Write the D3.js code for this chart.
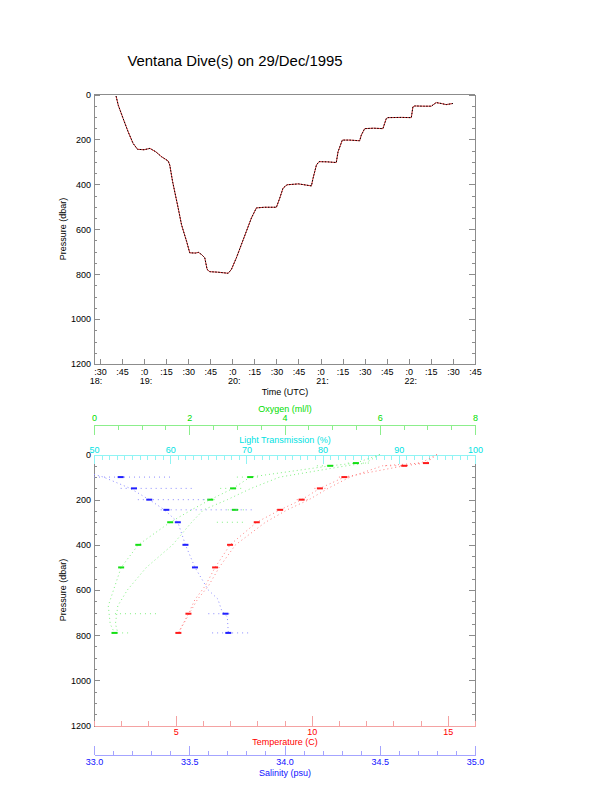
<!DOCTYPE html>
<html>
<head>
<meta charset="utf-8">
<script src="https://cdn.jsdelivr.net/npm/d3@7"></script>
<style>
    body { margin: 0; background: #fff; }
    text { font-family: "Liberation Sans", Arial, Helvetica, sans-serif; }
</style>
</head>
<body>
<div id="chart" style="width:612px;height:785px"></div>
<script>
// dive track: minutes after 18:00 UTC, pressure in dbar
const diveMinutes = [41, 42.5, 45.8, 49.2, 52.6, 55.6, 60, 64, 68, 71.9, 76.4, 77.5, 79.4, 83.2, 85.5, 88.9, 91.1, 95, 97, 99,
    101.3, 102.9, 104.7, 110, 117.2, 119.4, 122.8, 126.2, 129.6, 133, 136.4, 142, 150, 152.3, 154.5, 157.2, 165, 173.8, 174.9, 177.2,
    179, 185, 190.7, 191.9, 194.8, 200, 206.6, 207.7, 210, 216, 222.4, 224.7, 225.8, 235, 241.7, 242.8, 244, 250, 255.3, 258.6,
    262, 265.4, 270];
const divePressure = [7, 48, 107, 166, 218, 244, 246, 240, 255, 277, 296, 314, 387, 505, 580, 653, 705, 706, 703, 712,
    727, 779, 789, 791, 796, 779, 727, 668, 609, 550, 505, 502, 502, 461, 417, 402, 398, 407, 373, 314,
    299, 300, 303, 255, 203, 203, 206, 181, 152, 150, 152, 107, 103, 102, 103, 55, 51, 52, 52, 36,
    40, 45, 40];
const hourLabels = ["18:", "19:", "20:", "21:", "22:"];
const pressureTicks = [0, 200, 400, 600, 800, 1000, 1200];

// profile trails (pressure, value)
const tempTrailP = [0, 38, 50, 100, 150, 200, 245, 300, 400, 500, 583, 642, 705, 790];
const tempDown = [14.6, 14.2, 13.4, 11.2, 10.3, 9.63, 8.84, 7.98, 7.0, 6.45, 6.08, 5.71, 5.47, 5.1];
const tempUp = [14.6, 14.0, 12.6, 11.4, 10.6, 9.9, 9.1, 8.3, 7.2, 6.6, 6.2, 5.8, 5.5, 5.1];
const salTrailP = [88, 100, 150, 200, 245, 300, 400, 500, 550, 600, 640, 690, 720, 790];
const salTrail = [33.0, 33.05, 33.19, 33.29, 33.37, 33.44, 33.48, 33.53, 33.565, 33.6, 33.65, 33.67, 33.70, 33.705];
const oxyTrailP = [0, 38, 50, 100, 150, 200, 245, 300, 400, 500, 600, 670, 750, 790];
const oxyDown = [6.0, 5.5, 4.96, 3.28, 2.92, 2.44, 2.05, 1.6, 0.93, 0.57, 0.41, 0.30, 0.34, 0.43];
const oxyUp = [6.0, 5.7, 5.3, 3.9, 3.3, 2.8, 2.3, 2.05, 1.65, 1.1, 0.7, 0.5, 0.45, 0.5];

// stops: mean value and scatter range
const stopPressure = [38, 50, 100, 150, 200, 245, 300, 400, 500, 705, 790];
const stopTemp = [14.2, 13.4, 11.2, 10.3, 9.63, 8.84, 7.98, 7.0, 6.45, 5.47, 5.1];
const stopTempLo = [13.9, 12.7, 11.0, 10.1, 9.45, 8.7, 7.9, null, null, null, null];
const stopTempHi = [14.35, 13.55, 11.4, 10.6, 9.85, 9.0, 8.1, null, null, null, null];
const stopSal = [null, null, 33.14, 33.21, 33.29, 33.38, 33.44, 33.48, 33.53, 33.69, 33.705];
const stopSalLo = [null, null, 33.0, 33.14, 33.23, 33.35, null, null, null, 33.6, 33.62];
const stopSalHi = [null, null, 33.41, 33.53, 33.6, 33.83, null, null, null, 33.72, 33.83];
const stopOxy = [5.5, 4.96, 3.28, 2.92, 2.44, 2.96, 1.6, 0.93, 0.57, null, 0.43];
const stopOxyLo = [5.33, 4.68, 3.0, 2.65, 2.3, 2.81, 2.58, null, null, 0.44, 0.38];
const stopOxyHi = [5.8, 5.1, 3.49, 3.13, 2.6, 3.17, 3.2, null, null, 1.35, 0.75];

class DiveCharts {
    constructor(parentElement) {
        this.parentElement = parentElement;
        this.initVis();
    }

    initVis() {
        let vis = this;
        vis.width = 612;
        vis.height = 785;
        vis.left = 94;
        vis.right = 475;

        vis.svg = d3.select("#" + vis.parentElement).append("svg")
            .attr("width", vis.width)
            .attr("height", vis.height);

        vis.svg.append("text")
            .attr("x", 235).attr("y", 66)
            .attr("text-anchor", "middle")
            .style("font-size", "14.9px")
            .text("Ventana Dive(s) on 29/Dec/1995");

        vis.drawTrack();
        vis.drawProfile();
    }

    styleAxis(g, lineColor, textColor) {
        g.attr("font-family", null).attr("font-size", null);
        g.select(".domain").attr("stroke", lineColor);
        g.selectAll(".tick line").attr("stroke", lineColor);
        g.selectAll(".tick text").attr("fill", textColor).style("font-size", "9px");
        g.attr("shape-rendering", "crispEdges");
        return g;
    }

    minorTicks(axis, values, size) {
        return axis.tickValues(values).tickSize(size).tickSizeOuter(0).tickFormat("");
    }

    yLabel(y) {
        this.svg.append("text")
            .attr("transform", `translate(66,${y}) rotate(-90)`)
            .attr("text-anchor", "middle")
            .style("font-size", "9px")
            .text("Pressure (dbar)");
    }

    pressureAxes(g, scale, grey) {
        let vis = this;
        vis.styleAxis(g.append("g").attr("transform", `translate(${vis.left},0)`)
            .call(d3.axisLeft(scale).tickValues(pressureTicks).tickSize(-6).tickSizeOuter(0).tickPadding(3)
                .tickFormat(d3.format("d"))), grey, "#000");
        vis.styleAxis(g.append("g").attr("transform", `translate(${vis.left},0)`)
            .call(vis.minorTicks(d3.axisLeft(scale), d3.range(0, 1201, 50), -3)), grey, "#000");
        vis.styleAxis(g.append("g").attr("transform", `translate(${vis.right},0)`)
            .call(d3.axisRight(scale).tickValues(pressureTicks).tickSize(-6).tickSizeOuter(0).tickFormat("")), grey, "#000");
        vis.styleAxis(g.append("g").attr("transform", `translate(${vis.right},0)`)
            .call(vis.minorTicks(d3.axisRight(scale), d3.range(0, 1201, 50), -3)), grey, "#000");
    }

    drawTrack() {
        let vis = this;
        let grey = "#8c8c8c";
        let top = 94.5, bottom = 364;

        vis.xTime = d3.scaleLinear().domain([26, 285]).range([vis.left, vis.right]);
        vis.yTrack = d3.scaleLinear().domain([0, 1200]).range([top, bottom]);

        let g = vis.svg.append("g");

        // box top
        g.append("line").attr("x1", vis.left).attr("x2", vis.right).attr("y1", top).attr("y2", top)
            .attr("stroke", grey).attr("shape-rendering", "crispEdges");

        vis.pressureAxes(g, vis.yTrack, grey);

        vis.styleAxis(g.append("g").attr("transform", `translate(0,${bottom})`)
            .call(d3.axisBottom(vis.xTime).tickValues(d3.range(30, 286, 15)).tickSize(-5).tickSizeOuter(0).tickPadding(5)
                .tickFormat(d => ":" + (d % 60))), grey, "#000");

        g.selectAll(".hour")
            .data(hourLabels)
            .enter().append("text")
            .attr("class", "hour")
            .attr("x", (d, i) => i === 0 ? vis.xTime(30) - 4 : vis.xTime(i * 60) + 2)
            .attr("y", 384)
            .attr("text-anchor", "middle")
            .style("font-size", "9px")
            .text(d => d);

        g.append("text")
            .attr("x", 285).attr("y", 394.5)
            .attr("text-anchor", "middle")
            .style("font-size", "9px")
            .text("Time (UTC)");

        vis.yLabel(229);

        let line = d3.line()
            .x((d, i) => vis.xTime(diveMinutes[i]))
            .y(d => vis.yTrack(d));

        g.append("path")
            .datum(divePressure)
            .attr("d", line)
            .attr("fill", "none")
            .attr("stroke", "#e23a3a")
            .attr("stroke-width", 1);
        g.append("path")
            .datum(divePressure)
            .attr("d", line)
            .attr("fill", "none")
            .attr("stroke", "#000")
            .attr("stroke-width", 1)
            .attr("stroke-dasharray", "1.5,1.5");
    }

    drawProfile() {
        let vis = this;
        let grey = "#8c8c8c";
        let top = 454.5, bottom = 725.5;

        vis.yProf = d3.scaleLinear().domain([0, 1200]).range([top, bottom]);
        vis.xTemp = d3.scaleLinear().domain([2, 16]).range([vis.left, vis.right]);
        vis.xSal = d3.scaleLinear().domain([33, 35]).range([vis.left, vis.right]);
        vis.xOxy = d3.scaleLinear().domain([0, 8]).range([vis.left, vis.right]);
        vis.xLight = d3.scaleLinear().domain([50, 100]).range([vis.left, vis.right]);

        let col = {
            temp: {line: "#f4a2a2", text: "#ff0000", mark: "#ff1a1a", trail: "#ff8080"},
            sal: {line: "#a4a4ff", text: "#1010ff", mark: "#2020ff", trail: "#8a8aff"},
            oxy: {line: "#8cee8c", text: "#00dd00", mark: "#14e014", trail: "#80f080"},
            light: {line: "#90f4f4", text: "#00e2e2"}
        };

        let g = vis.svg.append("g");

        vis.pressureAxes(g, vis.yProf, grey);
        vis.yLabel(590);

        // light transmission on the box top
        vis.styleAxis(g.append("g").attr("transform", `translate(0,${top})`)
            .call(vis.minorTicks(d3.axisTop(vis.xLight), d3.range(50, 101, 1), -5)), col.light.line, col.light.text);
        vis.styleAxis(g.append("g").attr("transform", `translate(0,${top})`)
            .call(d3.axisTop(vis.xLight).tickValues(d3.range(50, 101, 10)).tickSize(-9).tickSizeOuter(0).tickPadding(2)),
            col.light.line, col.light.text);
        g.append("text").attr("x", 285).attr("y", 442.5).attr("text-anchor", "middle")
            .attr("fill", col.light.text).style("font-size", "9px").text("Light Transmission (%)");

        // oxygen
        vis.styleAxis(g.append("g").attr("transform", "translate(0,425)")
            .call(vis.minorTicks(d3.axisTop(vis.xOxy), d3.range(0, 8.01, 0.5), -5)), col.oxy.line, col.oxy.text);
        vis.styleAxis(g.append("g").attr("transform", "translate(0,425)")
            .call(d3.axisTop(vis.xOxy).tickValues(d3.range(0, 9, 2)).tickSize(-10).tickSizeOuter(0).tickPadding(4.5)),
            col.oxy.line, col.oxy.text);
        g.append("text").attr("x", 285).attr("y", 412).attr("text-anchor", "middle")
            .attr("fill", col.oxy.text).style("font-size", "9px").text("Oxygen (ml/l)");

        // temperature on the box bottom
        vis.styleAxis(g.append("g").attr("transform", `translate(0,${bottom})`)
            .call(vis.minorTicks(d3.axisBottom(vis.xTemp), d3.range(2, 16.01, 1), -5)), col.temp.line, col.temp.text);
        vis.styleAxis(g.append("g").attr("transform", `translate(0,${bottom})`)
            .call(d3.axisBottom(vis.xTemp).tickValues([5, 10, 15]).tickSize(-10).tickSizeOuter(0).tickPadding(3.5)),
            col.temp.line, col.temp.text);
        g.append("text").attr("x", 285).attr("y", 745).attr("text-anchor", "middle")
            .attr("fill", col.temp.text).style("font-size", "9px").text("Temperature (C)");

        // salinity
        vis.styleAxis(g.append("g").attr("transform", "translate(0,754.5)")
            .call(vis.minorTicks(d3.axisBottom(vis.xSal), d3.range(33, 35.001, 0.1), -4)), col.sal.line, col.sal.text);
        vis.styleAxis(g.append("g").attr("transform", "translate(0,754.5)")
            .call(d3.axisBottom(vis.xSal).tickValues(d3.range(33, 35.01, 0.5)).tickSize(-9).tickSizeOuter(0).tickPadding(4)
                .tickFormat(d3.format(".1f"))), col.sal.line, col.sal.text);
        g.append("text").attr("x", 285).attr("y", 775.5).attr("text-anchor", "middle")
            .attr("fill", col.sal.text).style("font-size", "9px").text("Salinity (psu)");

        // trails
        let trail = (pArr, vArr, scale, color) => {
            g.append("path")
                .datum(vArr)
                .attr("d", d3.line().x(d => scale(d)).y((d, i) => vis.yProf(pArr[i])))
                .attr("fill", "none")
                .attr("stroke", color)
                .attr("stroke-width", 1)
                .attr("stroke-dasharray", "1,3");
        };
        trail(oxyTrailP, oxyDown, vis.xOxy, col.oxy.trail);
        trail(oxyTrailP, oxyUp, vis.xOxy, col.oxy.trail);
        trail(salTrailP, salTrail, vis.xSal, col.sal.trail);
        trail(tempTrailP, tempDown, vis.xTemp, col.temp.trail);
        trail(tempTrailP, tempUp, vis.xTemp, col.temp.trail);

        // scatter at each stop and the stop mean
        let stops = (mean, lo, hi, scale, c) => {
            let idx = d3.range(stopPressure.length);
            g.selectAll(null)
                .data(idx.filter(i => lo[i] !== null))
                .enter().append("line")
                .attr("x1", i => scale(lo[i]))
                .attr("x2", i => scale(hi[i]))
                .attr("y1", i => vis.yProf(stopPressure[i]))
                .attr("y2", i => vis.yProf(stopPressure[i]))
                .attr("stroke", c.trail)
                .attr("stroke-dasharray", "1,4");
            g.selectAll(null)
                .data(idx.filter(i => mean[i] !== null))
                .enter().append("rect")
                .attr("x", i => scale(mean[i]) - 3)
                .attr("y", i => vis.yProf(stopPressure[i]) - 1)
                .attr("width", 6)
                .attr("height", 2)
                .attr("fill", c.mark);
        };
        stops(stopOxy, stopOxyLo, stopOxyHi, vis.xOxy, col.oxy);
        stops(stopSal, stopSalLo, stopSalHi, vis.xSal, col.sal);
        stops(stopTemp, stopTempLo, stopTempHi, vis.xTemp, col.temp);
    }
}

new DiveCharts("chart");
</script>
</body>
</html>
